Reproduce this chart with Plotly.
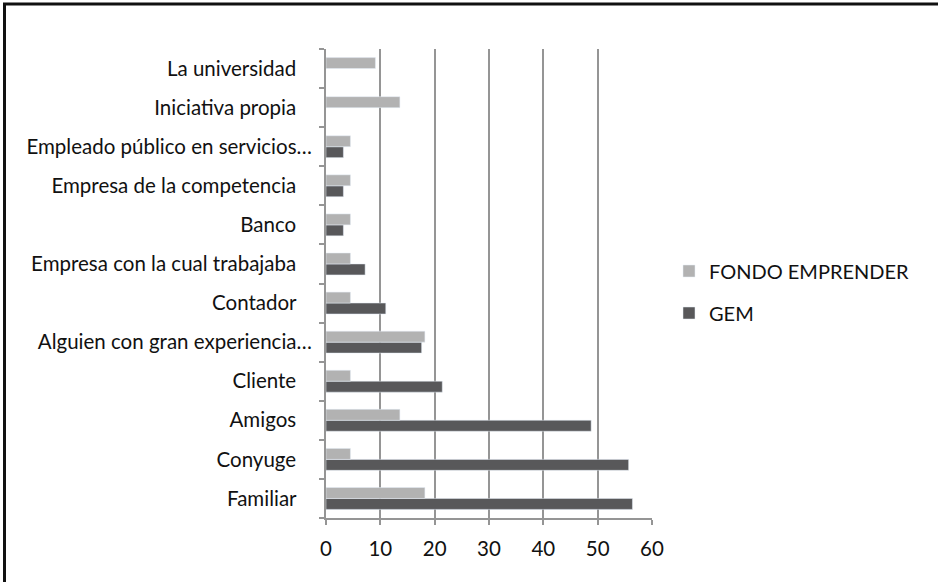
import plotly.graph_objects as go

# categories listed bottom -> top
categories = [
    "Familiar",
    "Conyuge",
    "Amigos",
    "Cliente",
    "Alguien con gran experiencia…",
    "Contador",
    "Empresa con la cual trabajaba",
    "Banco",
    "Empresa de la competencia",
    "Empleado público en servicios…",
    "Iniciativa propia",
    "La universidad",
]
gem = [56.4, 55.7, 48.8, 21.4, 17.6, 11.0, 7.2, 3.2, 3.2, 3.2, None, None]
fondo = [18.2, 4.5, 13.6, 4.5, 18.2, 4.5, 4.5, 4.5, 4.5, 4.5, 13.6, 9.1]
x_ticks = [0, 10, 20, 30, 40, 50, 60]

FONT = "Lato, 'Open Sans', sans-serif"

# plot area in page pixels
L, T, W, H = 326, 49, 326, 469


def px(x):
    return (x - L) / W


def py(y):
    return (T + H - y) / H


# labels without the ellipsis sit a bit further left, like in the original
tick_text = [c if c.endswith("…") else c + "\u00a0\u00a0\u00a0" for c in categories]

fig = go.Figure()
fig.add_trace(
    go.Bar(
        name="GEM",
        y=categories,
        x=gem,
        orientation="h",
        marker_color="#58585a",
        legendgroup="gem",
        legendrank=2,
    )
)
fig.add_trace(
    go.Bar(
        name="FONDO EMPRENDER",
        y=categories,
        x=fondo,
        orientation="h",
        marker_color="#b2b2b2",
        legendgroup="fondo",
        legendrank=1,
    )
)

fig.update_layout(
    width=938,
    height=582,
    barmode="group",
    bargap=0.44,
    bargroupgap=0,
    plot_bgcolor="white",
    paper_bgcolor="white",
    font=dict(family=FONT, size=20.5, color="#111111"),
    margin=dict(l=L, r=938 - L - W, t=T, b=582 - T - H),
    legend=dict(
        x=px(669),
        y=py(292),
        xanchor="left",
        yanchor="middle",
        traceorder="grouped",
        tracegroupgap=13,
        font=dict(size=20),
        itemwidth=30,
        bgcolor="rgba(0,0,0,0)",
    ),
    showlegend=True,
    shapes=[
        dict(type="line", xref="paper", yref="paper",
             x0=px(4.5), x1=px(4.5), y0=py(3), y1=py(582),
             line=dict(color="#111111", width=3)),
        dict(type="line", xref="paper", yref="paper",
             x0=px(3), x1=px(938), y0=py(4), y1=py(4),
             line=dict(color="#111111", width=3)),
    ],
)

fig.update_xaxes(
    range=[0, 60],
    tickvals=x_ticks,
    showgrid=True,
    gridcolor="#959595",
    gridwidth=2,
    showline=True,
    linecolor="#959595",
    linewidth=2,
    ticks="outside",
    ticklen=5,
    tickcolor="#959595",
    tickwidth=2,
    zeroline=False,
    ticklabelstandoff=6,
)
fig.update_yaxes(
    tickvals=categories,
    ticktext=tick_text,
    showline=True,
    linecolor="#959595",
    linewidth=2,
    ticks="outside",
    ticklen=5,
    tickcolor="#959595",
    tickwidth=2,
    tickson="boundaries",
    showgrid=False,
    ticklabelstandoff=8,
)

fig.write_html(
    "out.html",
    config={"displayModeBar": False},
    post_script="document.body.style.margin='0';",
)
